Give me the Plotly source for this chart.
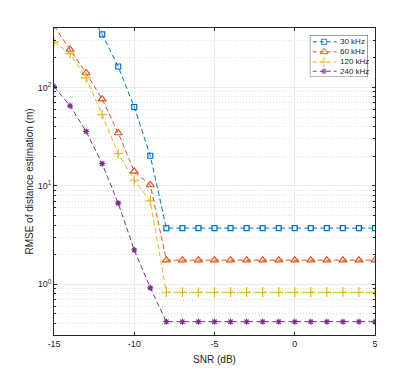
import plotly.graph_objects as go

snr_db = list(range(-15, 6))

rmse_30k = [None, None, 680, 345, 163, 63, 20.2] + [3.72] * 14
rmse_60k = [420, 243, 140, 76, 34.4, 14.0, 10.2] + [1.76] * 14
rmse_120k = [288, 220, 125, 52.8, 21.3, 11.4, 7.05] + [0.83] * 14
rmse_240k = [102, 65, 35.7, 16.8, 6.67, 2.23, 0.92] + [0.417] * 14

series_names = ["30 kHz", "60 kHz", "120 kHz", "240 kHz"]

x_tick_vals = [-15, -10, -5, 0, 5]
x_tick_text = ["-15", "-10", "-5", "0", "5"]
y_tick_vals = [1, 10, 100]
y_tick_text = ["10<sup>0</sup>", "10<sup>1</sup>", "10<sup>2</sup>"]

INK = "#262626"
STYLES = [
    dict(color="#0072BD", symbol="square-open", size=5),
    dict(color="#D95319", symbol="triangle-up-open", size=7),
    dict(color="#EDB120", symbol="cross-thin-open", size=7),
    dict(color="#7E2F8E", symbol="asterisk-open", size=5),
]
DASH = "5px,3px"

fig = go.Figure()
for name, ys, st in zip(series_names, [rmse_30k, rmse_60k, rmse_120k, rmse_240k], STYLES):
    fig.add_trace(go.Scatter(
        x=snr_db, y=ys, mode="lines+markers", name=name, showlegend=False,
        line=dict(color=st["color"], width=1, dash=DASH),
        marker=dict(symbol=st["symbol"], size=st["size"], color=st["color"],
                    line=dict(color=st["color"], width=1.2)),
    ))

# hand-built MATLAB-style legend on a hidden overlay subplot (plotly's own
# legend has a minimum row height that makes the box twice as tall)
legend_rows = [0.84, 0.60, 0.36, 0.14]
fig.add_trace(go.Scatter(
    x=[0, 1, 1, 0, 0], y=[0, 0, 1, 1, 0], mode="lines", fill="toself",
    fillcolor="white", line=dict(color=INK, width=0.8),
    xaxis="x2", yaxis="y2", showlegend=False, hoverinfo="skip",
))
for name, row, st in zip(series_names, legend_rows, STYLES):
    fig.add_trace(go.Scatter(
        x=[0.05, 0.245, 0.46], y=[row, row, row], mode="lines+markers",
        line=dict(color=st["color"], width=1, dash="4px,3px"),
        marker=dict(symbol=st["symbol"], size=[0, st["size"], 0], color=st["color"],
                    line=dict(color=st["color"], width=1.2)),
        xaxis="x2", yaxis="y2", showlegend=False, hoverinfo="skip",
    ))
    fig.add_annotation(x=0.49, y=row, xref="x2", yref="y2", text=name,
                       showarrow=False, xanchor="left", yanchor="middle",
                       font=dict(size=8, color=INK))

axis_common = dict(
    showline=True, linecolor=INK, linewidth=1, mirror="allticks",
    ticks="inside", ticklen=3, tickcolor=INK,
    gridcolor="#ebebeb", gridwidth=1, zeroline=False, automargin=False,
    tickfont=dict(size=9, color=INK),
)

# page body keeps its default 8px margin, so the figure is drawn 8px in and
# the margins/size below are trimmed to land the axes where the reference has them
fig.update_layout(
    xaxis=dict(range=[-15, 5], tickvals=x_tick_vals, ticktext=x_tick_text,
               title=dict(text="SNR (dB)", font=dict(size=10, color=INK), standoff=8),
               **axis_common),
    yaxis=dict(type="log", range=[-0.515, 2.603],
               tickvals=y_tick_vals, ticktext=y_tick_text,
               title=dict(text="RMSE of distance estimation (m)",
                          font=dict(size=10, color=INK), standoff=2),
               minor=dict(dtick="D1", showgrid=True, gridcolor="#dedede", griddash="1px,2px",
                          ticks="inside", ticklen=2, tickcolor=INK),
               **axis_common),
    xaxis2=dict(domain=[0.797, 0.978], range=[0, 1], anchor="y2", visible=False,
                fixedrange=True),
    yaxis2=dict(domain=[0.84, 0.977], range=[0, 1], anchor="x2", visible=False,
                fixedrange=True),
    width=407, height=369,
    margin=dict(l=46, r=40, t=20, b=42),
    paper_bgcolor="white", plot_bgcolor="white",
    font=dict(family="Liberation Sans, Arial, sans-serif", color=INK),
    showlegend=False,
)

fig.write_html("out.html")
